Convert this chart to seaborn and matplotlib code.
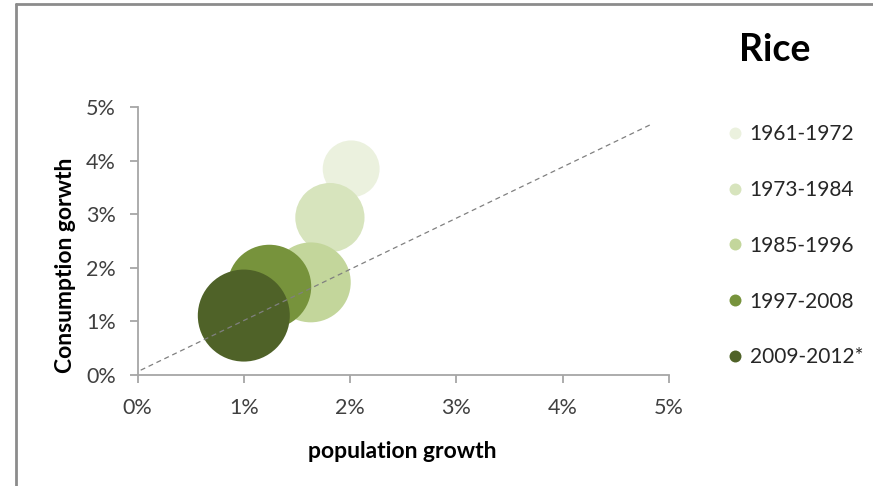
import matplotlib
matplotlib.use("Agg")
import matplotlib.pyplot as plt
from matplotlib.lines import Line2D
from matplotlib.ticker import PercentFormatter, MultipleLocator
import seaborn as sns
import pandas as pd

# ---- data ----
periods = ["1961-1972", "1973-1984", "1985-1996", "1997-2008", "2009-2012*"]
population_growth = [0.0201, 0.0181, 0.0163, 0.0124, 0.0100]
consumption_growth = [0.0385, 0.0294, 0.0173, 0.0165, 0.0111]
bubble_value = [81, 120, 160, 176, 212]
colors = ["#EBF1DE", "#D7E4BD", "#C3D69B", "#77933C", "#4F6228"]
ref_line_x = [0.0003, 0.0482]
ref_line_y = [0.0009, 0.0467]

sns.set_theme(style="white")
plt.rcParams["font.family"] = ["Lato", "DejaVu Sans"]

df = pd.DataFrame({"period": periods, "pop": population_growth,
                   "cons": consumption_growth, "val": bubble_value})

W, H, DPI = 873, 486, 100
fig = plt.figure(figsize=(W / DPI, H / DPI), dpi=DPI)
x0, x1, y0, y1 = 137.5, 669.0, 375.0, 107.3
ax = fig.add_axes([x0 / W, 1 - y0 / H, (x1 - x0) / W, (y0 - y1) / H])

max_diam_pt = 92 * 72 / DPI
size_map = {v: (max_diam_pt ** 2) * v / max(bubble_value) for v in bubble_value}

sns.scatterplot(data=df, x="pop", y="cons", hue="period", palette=colors,
                size="val", sizes=size_map, linewidth=0, alpha=1,
                legend=False, ax=ax, zorder=2)

ax.plot(ref_line_x, ref_line_y, linestyle=(0, (4, 3)), color="#808080",
        linewidth=0.9, zorder=3)

ax.set_xlim(0, 0.05)
ax.set_ylim(0, 0.05)
ax.xaxis.set_major_locator(MultipleLocator(0.01))
ax.yaxis.set_major_locator(MultipleLocator(0.01))
ax.xaxis.set_major_formatter(PercentFormatter(1.0, decimals=0))
ax.yaxis.set_major_formatter(PercentFormatter(1.0, decimals=0))

for s in ["top", "right"]:
    ax.spines[s].set_visible(False)
for s in ["left", "bottom"]:
    ax.spines[s].set_color("#A6A6A6")
    ax.spines[s].set_linewidth(1.3)

ax.tick_params(axis="both", which="major", direction="out", length=5.5,
               width=1.3, color="#A6A6A6", labelsize=15.5, labelcolor="#404040",
               bottom=True, left=True)
ax.tick_params(axis="x", pad=11)
ax.tick_params(axis="y", pad=10)

ax.set_xlabel("population growth", fontsize=16.5, fontweight="bold",
              color="#000000")
ax.set_ylabel("Consumption gorwth", fontsize=16.5, fontweight="bold",
              color="#000000")
ax.xaxis.set_label_coords((402.5 - x0) / (x1 - x0), (y0 - 451) / (y0 - y1))
ax.yaxis.set_label_coords((65 - x0) / (x1 - x0), (y0 - 265) / (y0 - y1))
ax.xaxis.label.set_va("center")
ax.yaxis.label.set_va("center")

fig.text(775 / W, 1 - 50 / H, "Rice", fontsize=27, fontweight="bold",
         ha="center", va="center", color="#000000")

handles = [Line2D([], [], marker="o", linestyle="", markerfacecolor=c,
                  markeredgecolor="none", markersize=8.6) for c in colors]
fig.legend(handles, periods, loc="upper left",
           bbox_to_anchor=(726.7 / W, 1 - 124 / H), frameon=False,
           fontsize=15, labelspacing=1.72, handlelength=0.8,
           handletextpad=0.3, borderaxespad=0, borderpad=0,
           labelcolor="#262626")

# outer frame lines (left and top)
fig.add_artist(Line2D([15.5 / W, 15.5 / W], [0, 1 - 4 / H],
                      transform=fig.transFigure, color="#8C8C8C", linewidth=2))
fig.add_artist(Line2D([15.5 / W, 1], [1 - 4 / H, 1 - 4 / H],
                      transform=fig.transFigure, color="#8C8C8C", linewidth=2))

fig.savefig("out.png", dpi=DPI)
